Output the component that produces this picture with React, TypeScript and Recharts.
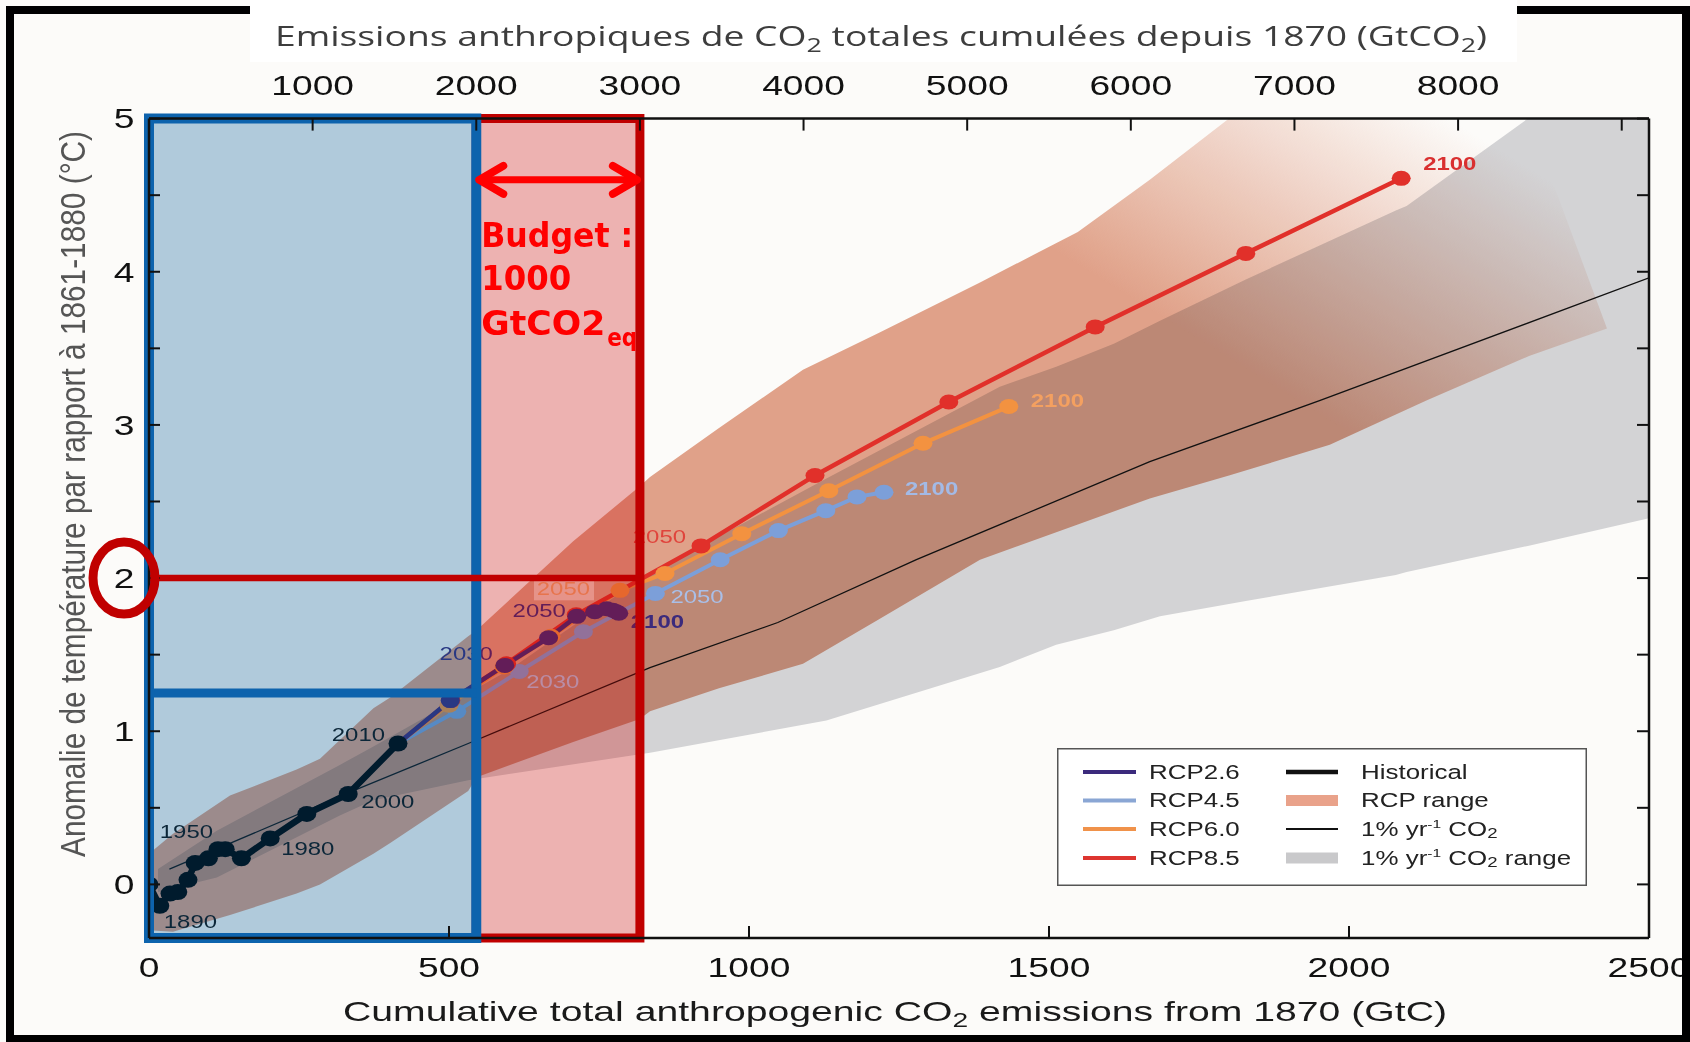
import React from 'react';
import { ComposedChart, Line, Area, XAxis, YAxis, ReferenceArea, ReferenceLine, Legend } from 'recharts';

const W = 1690;
const H = 1042;
const SX = 1.33; // the source figure is stretched horizontally
const FONT = "'Liberation Sans', Arial, Helvetica, sans-serif";

// x: cumulative CO2 emissions since 1870 (GtC), y: warming vs 1861-1880 (°C)
const histGtC = [0, 18, 35, 48, 65, 77, 99, 115, 127, 154, 202, 263, 332, 415];
const histTemp = [0.0, -0.14, -0.06, -0.05, 0.03, 0.14, 0.17, 0.23, 0.23, 0.17, 0.3, 0.46, 0.59, 0.92];

const rcp26GtC = [415, 502, 593, 666, 713, 743, 763, 773, 779, 783];
const rcp26Temp = [0.92, 1.2, 1.43, 1.61, 1.75, 1.78, 1.8, 1.79, 1.78, 1.77];
const rcp45GtC = [415, 513, 617, 724, 844, 952, 1049, 1128, 1180, 1225];
const rcp45Temp = [0.92, 1.13, 1.39, 1.65, 1.9, 2.12, 2.31, 2.44, 2.53, 2.56];
const rcp60GtC = [415, 500, 592, 670, 785, 860, 988, 1133, 1290, 1433];
const rcp60Temp = [0.92, 1.17, 1.42, 1.62, 1.92, 2.03, 2.29, 2.57, 2.88, 3.12];
const rcp85GtC = [415, 503, 596, 712, 920, 1110, 1333, 1577, 1828, 2087];
const rcp85Temp = [0.92, 1.2, 1.44, 1.76, 2.21, 2.67, 3.15, 3.64, 4.12, 4.61];

const onePctGtC = [34, 340, 532, 835, 1048, 1279, 1668, 1952, 2500];
const onePctTemp = [0.1, 0.61, 0.92, 1.415, 1.71, 2.12, 2.76, 3.16, 3.96];

const grayGtC = [15, 113, 318, 374, 532, 600, 818, 835, 1129, 1418, 1512, 1608, 1685, 1828, 2078, 2096, 2298, 2500];
const grayLow = [-0.05, 0.045, 0.45, 0.55, 0.68, 0.72, 0.85, 0.86, 1.07, 1.42, 1.565, 1.66, 1.75, 1.85, 2.02, 2.04, 2.21, 2.39];
const grayHigh = [0.1, 0.35, 0.78, 0.9, 1.25, 1.4, 1.99, 2.03, 2.65, 3.25, 3.38, 3.53, 3.68, 3.95, 4.4, 4.43, 5.0, 5.0];

const rcpRangeGtC = [0, 40, 135, 246, 285, 374, 402, 532, 546, 707, 818, 835, 950, 1090, 1216, 1385, 1548, 1668, 1800, 1968, 2129, 2300, 2430];
const rcpLow = [-0.3, -0.31, -0.2, -0.06, 0.0, 0.2, 0.27, 0.61, 0.7, 0.93, 1.08, 1.13, 1.28, 1.44, 1.73, 2.12, 2.35, 2.52, 2.67, 2.87, 3.16, 3.45, 3.63];
const rcpHigh = [0.2, 0.33, 0.58, 0.75, 0.82, 1.15, 1.22, 1.62, 1.66, 2.24, 2.6, 2.66, 2.98, 3.36, 3.6, 3.93, 4.26, 4.6, 5.0, 5.0, 5.0, 5.0, 3.63];

// budget annotation
const GTCO2_PER_GTC = 44 / 12;
const emittedGtCO2 = 2000;
const budgetGtCO2 = 1000;
const warmingNow = 1.25;
const warmingLimit = 2;
const arrowLevel = 4.6;
const emittedGtC = emittedGtCO2 / GTCO2_PER_GTC;
const limitGtC = (emittedGtCO2 + budgetGtCO2) / GTCO2_PER_GTC;

// axes
const xDomain = [0, 2500];
const xTicks = [0, 500, 1000, 1500, 2000, 2500];
const co2Domain = [0, 2500 * GTCO2_PER_GTC];
const co2Ticks = [1000, 2000, 3000, 4000, 5000, 6000, 7000, 8000, 9000];
const co2Labels = ['1000', '2000', '3000', '4000', '5000', '6000', '7000', '8000', ''];
const yDomain = [-0.35, 5];
const yTicks = [0, 0.5, 1, 1.5, 2, 2.5, 3, 3.5, 4, 4.5, 5];

const titleTop = 'Emissions anthropiques de CO₂ totales cumulées depuis 1870 (GtCO₂)';
const titleX = 'Cumulative total anthropogenic CO₂ emissions from 1870 (GtC)';
const titleY = 'Anomalie de température par rapport à 1861-1880 (°C)';

const toPoints = (xs: number[], ys: number[]) => xs.map((x, i) => ({ x, y: ys[i] }));
const toRange = (xs: number[], lo: number[], hi: number[]) => xs.map((x, i) => ({ x, range: [lo[i], hi[i]] }));

type YearLabel = { i: number; text: string; anchor: 'start' | 'end'; dx: number; dy: number; color: string; bold?: boolean; box?: boolean };

const histLabels: YearLabel[] = [
  { i: 1, text: '1890', anchor: 'start', dx: 4, dy: 16, color: '#111' },
  { i: 7, text: '1950', anchor: 'end', dx: -5, dy: -18, color: '#111' },
  { i: 10, text: '1980', anchor: 'start', dx: 11, dy: 10, color: '#111' },
  { i: 12, text: '2000', anchor: 'start', dx: 13, dy: 8, color: '#111' },
  { i: 13, text: '2010', anchor: 'end', dx: -13, dy: -9, color: '#111' },
];

const series = [
  {
    key: 'rcp45', xs: rcp45GtC, ys: rcp45Temp, color: '#7c9fd9', width: 4,
    labels: [
      { i: 2, text: '2030', anchor: 'start', dx: 7, dy: 10, color: '#b4c6ea' },
      { i: 4, text: '2050', anchor: 'start', dx: 15, dy: 3, color: '#a9bfe8' },
      { i: 9, text: '2100', anchor: 'start', dx: 21, dy: -4, color: '#a3bae6', bold: true },
    ] as YearLabel[],
  },
  {
    key: 'rcp60', xs: rcp60GtC, ys: rcp60Temp, color: '#f39240', width: 4,
    labels: [
      { i: 4, text: '2050', anchor: 'end', dx: -30, dy: -2, color: '#f4a46c', box: true },
      { i: 9, text: '2100', anchor: 'start', dx: 22, dy: -6, color: '#f4a060', bold: true },
    ] as YearLabel[],
  },
  {
    key: 'rcp85', xs: rcp85GtC, ys: rcp85Temp, color: '#e1302a', width: 4.5,
    labels: [
      { i: 4, text: '2050', anchor: 'end', dx: -15, dy: -9, color: '#e0443c' },
      { i: 9, text: '2100', anchor: 'start', dx: 22, dy: -15, color: '#d93030', bold: true },
    ] as YearLabel[],
  },
  {
    key: 'rcp26', xs: rcp26GtC, ys: rcp26Temp, color: '#3b2a7c', width: 4.5,
    labels: [
      { i: 2, text: '2030', anchor: 'end', dx: -12, dy: -12, color: '#3b2a7c' },
      { i: 4, text: '2050', anchor: 'end', dx: -11, dy: -6, color: '#3b2a7c' },
      { i: 9, text: '2100', anchor: 'start', dx: 12, dy: 8, color: '#3b2a7c', bold: true },
    ] as YearLabel[],
  },
];

const legendItems = [
  { name: 'RCP2.6', kind: 'line', color: '#3b2a7c', size: 4, col: 0, row: 0 },
  { name: 'RCP4.5', kind: 'line', color: '#8aa6d4', size: 4, col: 0, row: 1 },
  { name: 'RCP6.0', kind: 'line', color: '#f0924a', size: 4, col: 0, row: 2 },
  { name: 'RCP8.5', kind: 'line', color: '#dd3530', size: 4, col: 0, row: 3 },
  { name: 'Historical', kind: 'line', color: '#111', size: 4.5, col: 1, row: 0 },
  { name: 'RCP range', kind: 'band', color: '#e9a28a', size: 11, col: 1, row: 1 },
  { name: '1% yr⁻¹ CO₂', kind: 'line', color: '#111', size: 1.8, col: 1, row: 2 },
  { name: '1% yr⁻¹ CO₂ range', kind: 'band', color: '#c9c9cb', size: 11, col: 1, row: 3 },
];

function rich(s: string) {
  return s.split(/(₂|⁻¹)/).map((p, i) => {
    if (p === '₂') return <tspan key={i} baselineShift="-28%" fontSize="72%">2</tspan>;
    if (p === '⁻¹') return <tspan key={i} baselineShift="40%" fontSize="60%">-1</tspan>;
    return <tspan key={i}>{p}</tspan>;
  });
}

function StretchText({ x, y, anchor = 'middle', size, fill = '#111', weight = 'normal', children }: any) {
  return (
    <text
      transform={`translate(${x},${y}) scale(${SX},1)`}
      textAnchor={anchor}
      dominantBaseline="central"
      fontSize={size}
      fontFamily={FONT}
      fontWeight={weight}
      fill={fill}
    >
      {children}
    </text>
  );
}

const makeDot = (color: string, rx: number, ry: number, labels: YearLabel[], skipFirst: boolean) => (props: any) => {
  const { cx, cy, index } = props;
  if (cx == null || cy == null) return <g key={`n${index}`} />;
  const lab = labels.find((l) => l.i === index);
  const tx = lab ? cx + lab.dx : 0;
  const ty = lab ? cy + lab.dy : 0;
  return (
    <g key={`d${index}`}>
      {!(skipFirst && index === 0) && <ellipse cx={cx} cy={cy} rx={rx} ry={ry} fill={color} />}
      {lab && lab.box && <rect x={tx - 56} y={ty - 12} width={60} height={24} fill="#fbe3d8" fillOpacity={0.7} />}
      {lab && (
        <StretchText x={tx} y={ty} anchor={lab.anchor} size={18} fill={lab.color} weight={lab.bold ? 'bold' : 'normal'}>
          {lab.text}
        </StretchText>
      )}
    </g>
  );
};

const BottomTick = (props: any) => {
  const { x, y, payload } = props;
  return (
    <g>
      <line x1={x} x2={x} y1={y} y2={y - 12} stroke="#111" strokeWidth={2} />
      <StretchText x={x} y={y + 29} size={28}>{payload.value}</StretchText>
    </g>
  );
};

const TopTick = (props: any) => {
  const { x, y, index } = props;
  const text = co2Labels[index] ?? '';
  return (
    <g>
      <line x1={x} x2={x} y1={y} y2={y + 12} stroke="#111" strokeWidth={2} />
      <text transform={`translate(${x},${y - 33}) scale(${SX},1)`} textAnchor="middle" dominantBaseline="central"
        fontSize={28} fontFamily={FONT} fill="#111">{text}</text>
    </g>
  );
};

const LeftTick = (props: any) => {
  const { x, y, payload } = props;
  const v = payload.value;
  return (
    <g>
      <line x1={x} x2={x + 11} y1={y} y2={y} stroke="#111" strokeWidth={2} />
      {Number.isInteger(v) && <StretchText x={x - 25} y={y} size={28}>{v}</StretchText>}
      {v === warmingLimit && <ellipse cx={x - 25} cy={y} rx={31} ry={36} fill="none" stroke="#c00000" strokeWidth={9} />}
    </g>
  );
};

const RightTick = (props: any) => {
  const { x, y } = props;
  return <line x1={x - 12} x2={x} y1={y} y2={y} stroke="#111" strokeWidth={2} />;
};

const TopTitle = () => (
  <text x={881} y={46} textAnchor="middle" fontFamily="'Open Sans', sans-serif" fontSize={28} fill="#3d3d3d"
    textLength={1212} lengthAdjust="spacingAndGlyphs">
    {rich(titleTop)}
  </text>
);

const XTitle = () => (
  <text x={895} y={1021} textAnchor="middle" fontFamily={FONT} fontSize={28} fill="#1a1a1a"
    textLength={1104} lengthAdjust="spacingAndGlyphs">
    {rich(titleX)}
  </text>
);

const YTitle = () => (
  <text transform={`translate(73,494) rotate(-90) scale(1,${SX})`} textAnchor="middle" dominantBaseline="central"
    fontFamily={FONT} fontSize={26} fill="#555" textLength={726} lengthAdjust="spacingAndGlyphs">
    {titleY}
  </text>
);

const BudgetArrow = (props: any) => {
  const { x1, y1, x2 } = props;
  const y = y1;
  const red = '#ff0000';
  const tx = x1 + 5;
  return (
    <g>
      <line x1={x1 + 4} x2={x2 - 4} y1={y} y2={y} stroke={red} strokeWidth={7} strokeLinecap="round" />
      <polyline points={`${x1 + 27},${y - 14} ${x1 + 3},${y} ${x1 + 27},${y + 14}`} fill="none" stroke={red} strokeWidth={8} strokeLinecap="round" strokeLinejoin="round" />
      <polyline points={`${x2 - 27},${y - 14} ${x2 - 3},${y} ${x2 - 27},${y + 14}`} fill="none" stroke={red} strokeWidth={8} strokeLinecap="round" strokeLinejoin="round" />
      <g fontFamily="'DejaVu Sans', Verdana, sans-serif" fontWeight="bold" fontSize={34} fill={red}>
        <text x={tx} y={y + 67} textLength={152} lengthAdjust="spacingAndGlyphs">Budget :</text>
        <text x={tx} y={y + 110} textLength={90} lengthAdjust="spacingAndGlyphs">{budgetGtCO2}</text>
        <text x={tx} y={y + 155} textLength={124} lengthAdjust="spacingAndGlyphs">GtCO2</text>
        <text x={tx + 126} y={y + 166} fontSize={24} textLength={30} lengthAdjust="spacingAndGlyphs">eq</text>
      </g>
    </g>
  );
};

const LegendBox = () => {
  const rowY = [24, 52.5, 81, 110];
  const swX = [[26, 79], [229, 281]];
  const txX = [92, 304];
  return (
    <svg width={530} height={138} style={{ display: 'block' }}>
      <rect x={0.75} y={0.75} width={528.5} height={136.5} fill="#fff" stroke="#555" strokeWidth={1.5} />
      {legendItems.map((it) => {
        const cy = rowY[it.row];
        const [a, b] = swX[it.col];
        return (
          <g key={it.name}>
            {it.kind === 'line' ? (
              <line x1={a} x2={b} y1={cy} y2={cy} stroke={it.color} strokeWidth={it.size} />
            ) : (
              <rect x={a} y={cy - it.size / 2} width={b - a} height={it.size} fill={it.color} />
            )}
            <StretchText x={txX[it.col]} y={cy} anchor="start" size={19.5} fill="#222">{rich(it.name)}</StretchText>
          </g>
        );
      })}
    </svg>
  );
};

const ax = { xAxisId: 'gtc', yAxisId: 't' };
const plotMargin = { top: 118.6, right: 41, bottom: 104, left: 149 };
// the visible axes are 1px thick, so the overlay chart keeps the same plot box
const axisMargin = { top: 117.6, right: 40, bottom: 103, left: 148 };

export default function App() {
  const histData = toPoints(histGtC, histTemp);
  const onePctData = toPoints(onePctGtC, onePctTemp);
  const grayData = toRange(grayGtC, grayLow, grayHigh);
  const rcpRangeData = toRange(rcpRangeGtC, rcpLow, rcpHigh);

  return (
    <div style={{ position: 'fixed', left: 0, top: 0, width: W, height: H, overflow: 'hidden', background: '#fcfbf9' }}>
      <style>{`.rcp-range, .rcp-range path { mix-blend-mode: multiply; }`}</style>
      <svg width={0} height={0} style={{ position: 'absolute' }}>
        <defs>
          <linearGradient id="rcpFade" x1="0" y1="1" x2="1" y2="0.1">
            <stop offset="0" stopColor="#e3a48c" stopOpacity={1} />
            <stop offset="0.76" stopColor="#e3a48c" stopOpacity={1} />
            <stop offset="0.99" stopColor="#e3a48c" stopOpacity={0} />
          </linearGradient>
        </defs>
      </svg>
      <div style={{ position: 'absolute', left: 250, top: 0, width: 1267, height: 62, background: '#ffffff' }} />

      {/* data layer */}
      <div style={{ position: 'absolute', left: 0, top: 0 }}>
        <ComposedChart width={W} height={H} margin={plotMargin}>
          <XAxis xAxisId="gtc" type="number" dataKey="x" domain={xDomain} allowDataOverflow hide />
          <YAxis yAxisId="t" type="number" domain={yDomain} allowDataOverflow hide />

          <Area {...ax} data={grayData} dataKey="range" type="linear" stroke="none" fill="#d3d3d5" fillOpacity={1}
            dot={false} activeDot={false} isAnimationActive={false} legendType="none" />
          <Area {...ax} data={rcpRangeData} dataKey="range" type="linear" stroke="none" fill="url(#rcpFade)" fillOpacity={1}
            className="rcp-range" dot={false} activeDot={false} isAnimationActive={false} legendType="none" />
          <Line {...ax} data={onePctData} dataKey="y" type="linear" stroke="#111" strokeWidth={1.3}
            dot={false} activeDot={false} isAnimationActive={false} legendType="none" />

          {series.map((s) => (
            <Line key={s.key} {...ax} data={toPoints(s.xs, s.ys)} dataKey="y" type="linear" stroke={s.color} strokeWidth={s.width}
              dot={makeDot(s.color, 9.5, 7.5, s.labels, true)} activeDot={false} isAnimationActive={false} legendType="none" />
          ))}
          <Line {...ax} data={histData} dataKey="y" type="linear" stroke="#000" strokeWidth={6.5}
            dot={makeDot('#000', 9.5, 8, histLabels, false)} activeDot={false} isAnimationActive={false} legendType="none" />
        </ComposedChart>
      </div>

      {/* axes + budget overlay */}
      <div style={{ position: 'absolute', left: 0, top: 0 }}>
        <ComposedChart width={W} height={H} margin={axisMargin}>
          <XAxis xAxisId="gtc" type="number" dataKey="x" domain={xDomain} ticks={xTicks} allowDataOverflow interval={0}
            height={1} tickSize={0} tickMargin={0} tickLine={false} tick={BottomTick}
            axisLine={{ stroke: '#111', strokeWidth: 2.5 }} label={XTitle} />
          <XAxis xAxisId="co2" orientation="top" type="number" dataKey="x" domain={co2Domain} ticks={co2Ticks} allowDataOverflow interval={0}
            height={1} tickSize={0} tickMargin={0} tickLine={false} tick={TopTick}
            axisLine={{ stroke: '#111', strokeWidth: 2.5 }} label={TopTitle} />
          <YAxis yAxisId="t" type="number" domain={yDomain} ticks={yTicks} allowDataOverflow interval={0}
            width={1} tickSize={0} tickMargin={0} tickLine={false} tick={LeftTick}
            axisLine={{ stroke: '#111', strokeWidth: 2.5 }} label={YTitle} />
          <YAxis yAxisId="r" orientation="right" type="number" domain={yDomain} ticks={yTicks} allowDataOverflow interval={0}
            width={1} tickSize={0} tickMargin={0} tickLine={false} tick={RightTick}
            axisLine={{ stroke: '#111', strokeWidth: 2.5 }} />

          <ReferenceArea {...ax} x1={emittedGtC} x2={limitGtC} y1={yDomain[0]} y2={yDomain[1]} fill="rgb(200,0,0)" fillOpacity={0.29}
            stroke="none" ifOverflow="visible" />
          <ReferenceArea {...ax} x1={0} x2={emittedGtC} y1={yDomain[0]} y2={yDomain[1]} fill="rgb(0,90,150)" fillOpacity={0.3}
            stroke="none" ifOverflow="visible" />
          <ReferenceLine {...ax} segment={[{ x: 0, y: warmingLimit }, { x: limitGtC, y: warmingLimit }]} stroke="#c00000"
            strokeWidth={6.5} ifOverflow="visible" />
          <ReferenceArea {...ax} x1={emittedGtC} x2={limitGtC} y1={yDomain[0]} y2={yDomain[1]} fill="none"
            stroke="#c00000" strokeWidth={9} ifOverflow="visible" />
          <ReferenceArea {...ax} x1={0} x2={emittedGtC} y1={yDomain[0]} y2={yDomain[1]} fill="none"
            stroke="#0d63ad" strokeWidth={10} ifOverflow="visible" />
          <ReferenceLine {...ax} segment={[{ x: 0, y: warmingNow }, { x: emittedGtC, y: warmingNow }]} stroke="#0d63ad"
            strokeWidth={9} ifOverflow="visible" />
          <ReferenceLine {...ax} segment={[{ x: emittedGtC, y: arrowLevel }, { x: limitGtC, y: arrowLevel }]}
            shape={BudgetArrow} ifOverflow="visible" />

          <Legend layout="horizontal" verticalAlign="middle" align="center" content={LegendBox}
            wrapperStyle={{ left: 1057, top: 748, width: 530, height: 138 }} />
        </ComposedChart>
      </div>

      <div style={{ position: 'absolute', left: 6, top: 6, width: 8, height: H - 6, background: '#000' }} />
      <div style={{ position: 'absolute', left: 6, top: 6, width: 244, height: 8, background: '#000' }} />
      <div style={{ position: 'absolute', left: 1517, top: 6, width: W - 1517, height: 8, background: '#000' }} />
      <div style={{ position: 'absolute', left: W - 8, top: 6, width: 8, height: H - 6, background: '#000' }} />
      <div style={{ position: 'absolute', left: 6, top: H - 7, width: W - 6, height: 7, background: '#000' }} />
    </div>
  );
}
